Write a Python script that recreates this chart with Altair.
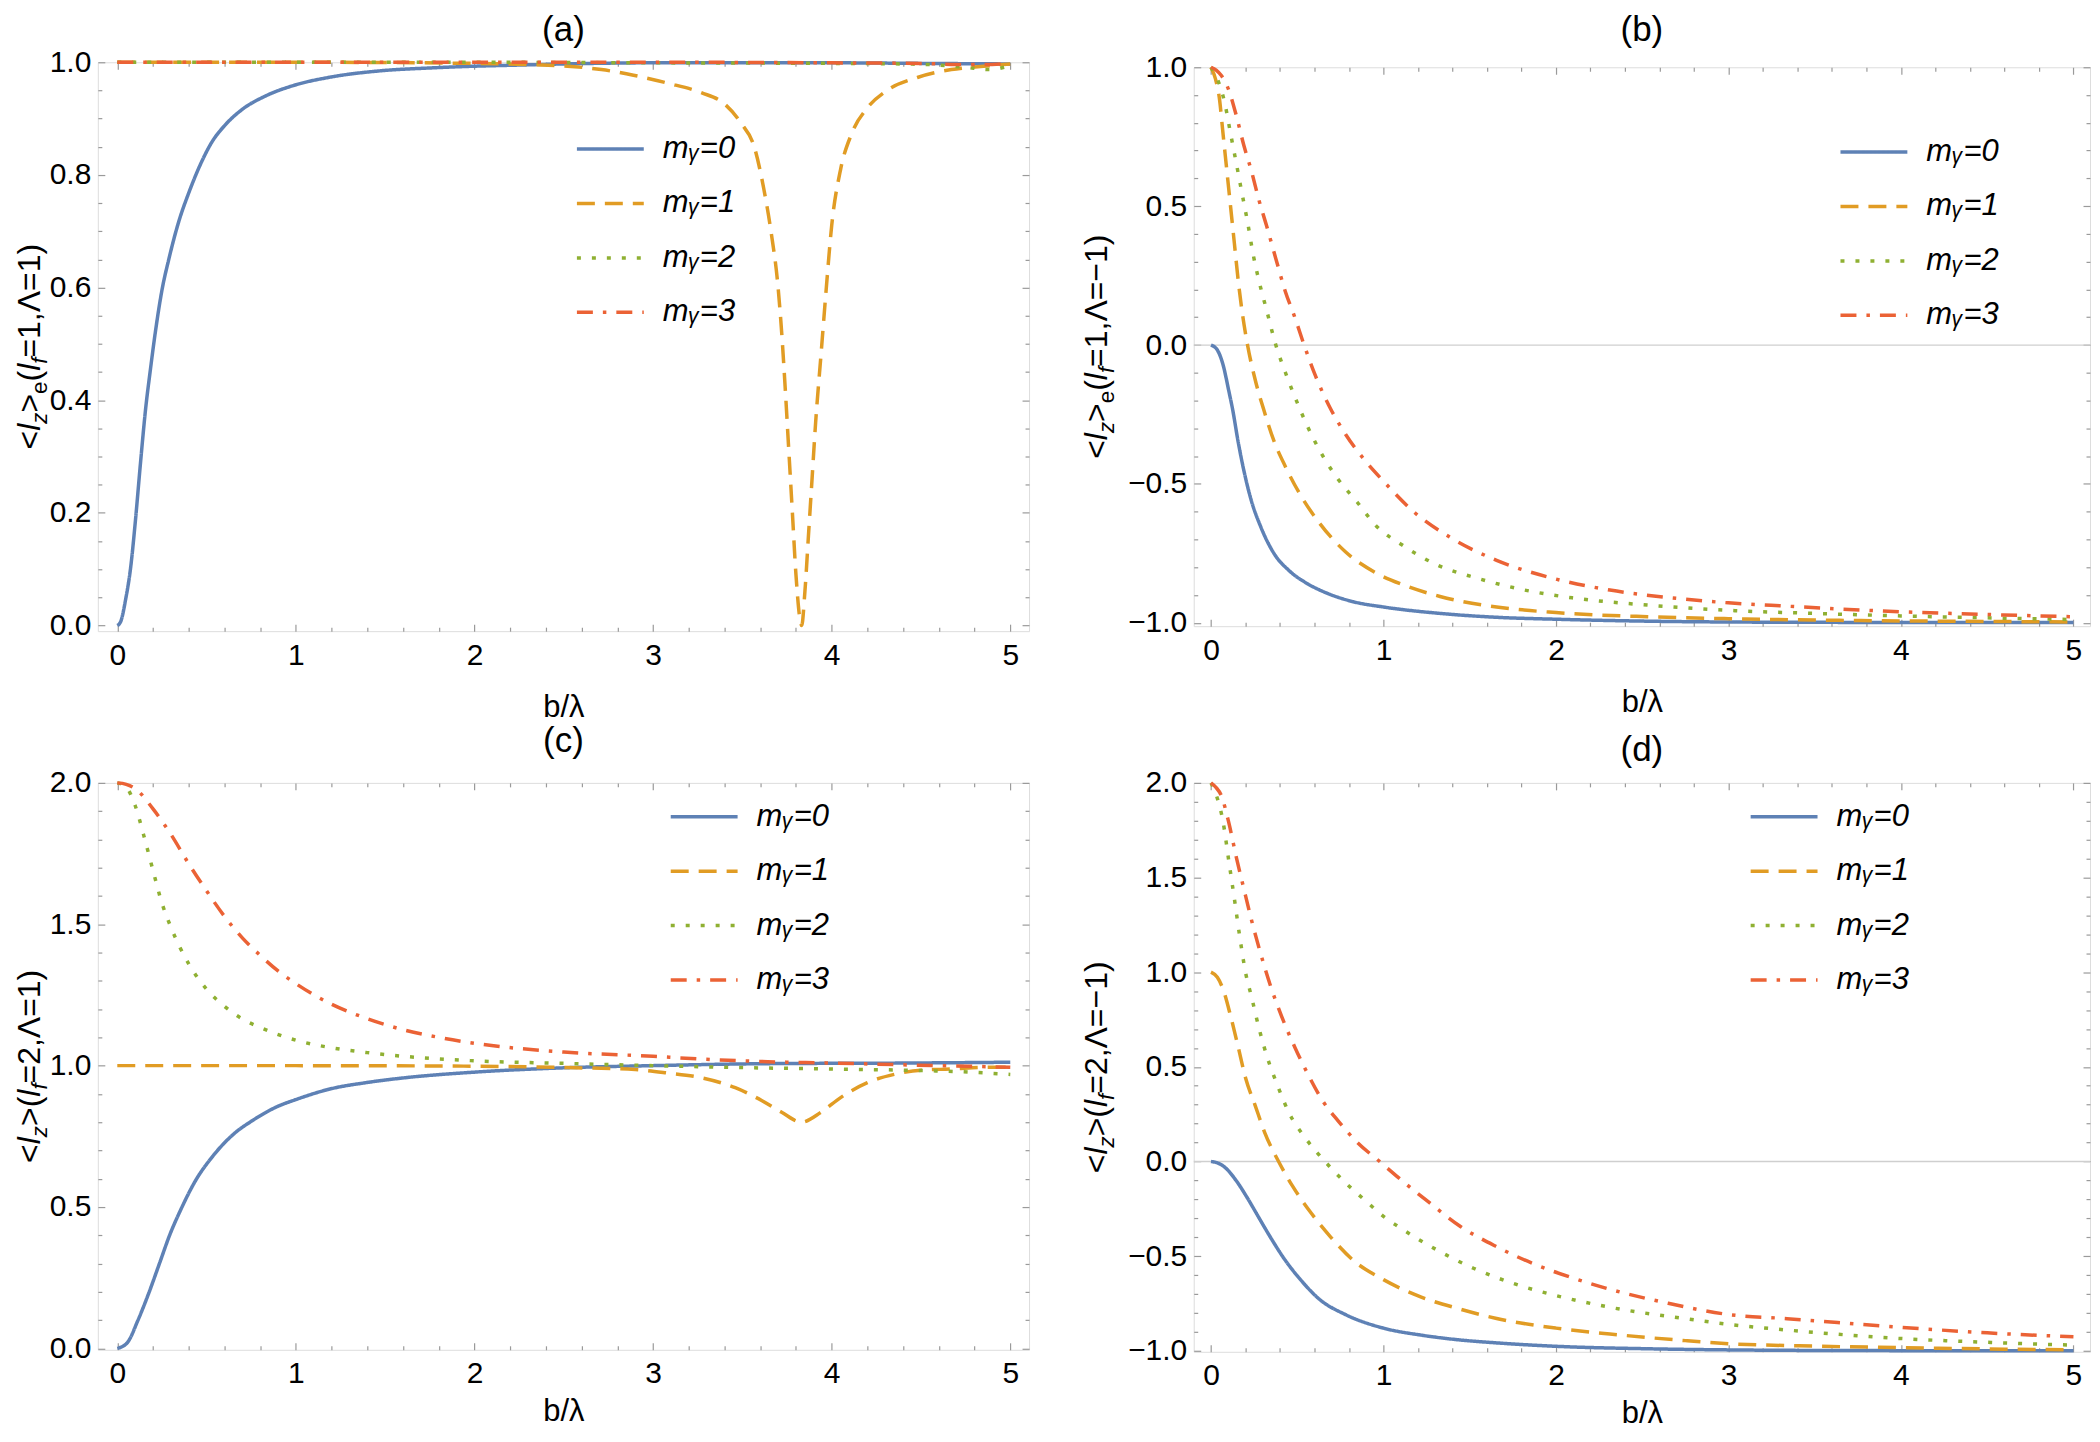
import altair as alt
import pandas as pd

FONT = "Liberation Sans"
SERIES = ["mᵧ=0", "mᵧ=1", "mᵧ=2", "mᵧ=3"]
COLORS = ["#5E81B5", "#E19C24", "#8FB032", "#EB6235"]
DASHES = [[1, 0], [18, 10], [4, 11], [16, 10, 3.5, 10]]
TICK = "#9a9a9a"
X_LABEL = "b/λ"
TITLES = ["(a)", "(b)", "(c)", "(d)"]

# ---------------- panel (a): <l_z>_e (l_f=1, Λ=1)
A0_B = [0, 0.019, 0.047, 0.074, 0.102, 0.13, 0.158, 0.186, 0.214, 0.251, 0.289, 0.345, 0.4, 0.456, 0.531, 0.605, 0.698, 0.829, 1.0, 1.2, 1.48, 1.76, 2.0, 2.25, 2.5, 3.0, 3.5, 4.0, 4.5, 5.0]
A0_V = [0, 0.007, 0.047, 0.101, 0.188, 0.289, 0.383, 0.456, 0.523, 0.597, 0.651, 0.718, 0.768, 0.812, 0.859, 0.889, 0.916, 0.94, 0.96, 0.974, 0.985, 0.99, 0.993, 0.995, 0.997, 0.999, 0.999, 0.999, 0.998, 0.997]
A1_B = [0, 1.0, 2.0, 2.52, 2.71, 2.89, 3.08, 3.27, 3.40, 3.49, 3.57, 3.62, 3.66, 3.70, 3.72, 3.74, 3.76, 3.78, 3.80, 3.832, 3.85, 3.87, 3.89, 3.91, 3.94, 3.97, 4.00, 4.05, 4.11, 4.20, 4.31, 4.48, 4.67, 4.85, 5.0]
A1_V = [1.0, 1.0, 0.998, 0.993, 0.987, 0.977, 0.963, 0.946, 0.926, 0.893, 0.846, 0.775, 0.70, 0.60, 0.52, 0.42, 0.31, 0.20, 0.09, 0.0, 0.06, 0.16, 0.26, 0.36, 0.48, 0.60, 0.71, 0.81, 0.872, 0.919, 0.95, 0.973, 0.987, 0.993, 0.997]
A2_B = [0, 1, 2, 3, 4, 4.4, 4.6, 4.75, 4.88, 5.0]
A2_V = [1.0, 1.0, 1.0, 0.999, 0.998, 0.997, 0.995, 0.991, 0.987, 0.994]
A3_B = [0, 1, 2, 3, 4, 4.5, 4.7, 4.85, 5.0]
A3_V = [1.0, 1.0, 1.0, 1.0, 0.999, 0.998, 0.996, 0.996, 0.998]

# ---------------- panel (b): <l_z>_e (l_f=1, Λ=-1)
B0_B = [0, 0.037, 0.07, 0.103, 0.125, 0.158, 0.19, 0.234, 0.289, 0.365, 0.453, 0.562, 0.672, 0.825, 1.0, 1.328, 1.656, 2.0, 2.53, 3.0, 3.5, 4.0, 5.0]
B0_V = [0, -0.018, -0.071, -0.164, -0.23, -0.35, -0.45, -0.56, -0.655, -0.75, -0.812, -0.86, -0.893, -0.924, -0.943, -0.966, -0.98, -0.987, -0.994, -0.997, -0.998, -0.999, -0.999]
B1_B = [0, 0.026, 0.048, 0.07, 0.092, 0.114, 0.136, 0.158, 0.179, 0.212, 0.256, 0.311, 0.365, 0.431, 0.519, 0.628, 0.781, 0.956, 1.109, 1.328, 1.656, 2.0, 2.53, 3.0, 3.5, 4.0, 4.5, 5.0]
B1_V = [1.0, 0.958, 0.892, 0.76, 0.628, 0.496, 0.364, 0.232, 0.127, 0.0, -0.124, -0.243, -0.345, -0.437, -0.54, -0.64, -0.745, -0.82, -0.862, -0.905, -0.943, -0.963, -0.978, -0.985, -0.99, -0.993, -0.995, -0.997]
B2_B = [0, 0.037, 0.081, 0.114, 0.147, 0.179, 0.212, 0.245, 0.278, 0.322, 0.376, 0.431, 0.497, 0.562, 0.65, 0.737, 0.847, 0.956, 1.109, 1.306, 1.547, 1.788, 2.094, 2.53, 3.0, 3.5, 4.0, 4.5, 5.0]
B2_V = [1.0, 0.958, 0.868, 0.76, 0.654, 0.549, 0.443, 0.325, 0.232, 0.127, 0.0, -0.098, -0.203, -0.296, -0.401, -0.483, -0.565, -0.65, -0.72, -0.79, -0.84, -0.878, -0.91, -0.936, -0.955, -0.966, -0.975, -0.982, -0.988]
B3_B = [0, 0.03, 0.059, 0.103, 0.147, 0.19, 0.234, 0.278, 0.322, 0.376, 0.431, 0.486, 0.54, 0.606, 0.694, 0.781, 0.891, 1.0, 1.175, 1.394, 1.656, 1.985, 2.313, 2.75, 3.0, 3.34, 4.0, 4.5, 5.0]
B3_V = [1.0, 0.99, 0.971, 0.918, 0.826, 0.72, 0.628, 0.522, 0.43, 0.311, 0.193, 0.1, 0.0, -0.111, -0.23, -0.322, -0.414, -0.49, -0.6, -0.695, -0.775, -0.84, -0.882, -0.915, -0.928, -0.94, -0.96, -0.97, -0.978]

# ---------------- panel (c): <l_z> (l_f=2, Λ=1)
C0_B = [0, 0.056, 0.116, 0.176, 0.236, 0.296, 0.355, 0.435, 0.535, 0.655, 0.755, 0.895, 1.0, 1.195, 1.395, 1.594, 2.0, 2.49, 3.0, 3.64, 4.39, 5.0]
C0_V = [0, 0.02, 0.1, 0.195, 0.3, 0.405, 0.49, 0.59, 0.68, 0.76, 0.805, 0.855, 0.88, 0.918, 0.94, 0.956, 0.977, 0.992, 1.0, 1.007, 1.009, 1.012]
C1_B = [0, 1.0, 2.0, 2.525, 2.9, 3.08, 3.27, 3.46, 3.61, 3.72, 3.83, 3.94, 4.05, 4.2, 4.35, 4.5, 4.67, 4.86, 5.0]
C1_V = [1.0, 1.0, 0.998, 0.993, 0.986, 0.974, 0.957, 0.922, 0.876, 0.835, 0.80, 0.835, 0.887, 0.94, 0.969, 0.984, 0.988, 0.994, 0.994]
C2_B = [0, 0.05, 0.1, 0.15, 0.2, 0.25, 0.3, 0.4, 0.5, 0.6, 0.7, 0.8, 1.0, 1.2, 1.4, 1.7, 2.0, 2.5, 3.0, 3.5, 4.0, 4.4, 4.7, 5.0]
C2_V = [2.0, 1.985, 1.92, 1.81, 1.69, 1.575, 1.49, 1.36, 1.27, 1.21, 1.165, 1.135, 1.09, 1.063, 1.046, 1.028, 1.017, 1.008, 1.0, 0.993, 0.988, 0.984, 0.979, 0.969]
C3_B = [0, 0.05, 0.1, 0.2, 0.3, 0.4, 0.5, 0.6, 0.7, 0.8, 0.9, 1.0, 1.2, 1.4, 1.6, 1.8, 2.0, 2.5, 3.0, 3.27, 3.64, 4.02, 4.39, 4.58, 4.76, 5.0]
C3_V = [2.0, 1.995, 1.98, 1.908, 1.818, 1.714, 1.618, 1.528, 1.452, 1.39, 1.335, 1.29, 1.217, 1.166, 1.127, 1.1, 1.079, 1.048, 1.033, 1.023, 1.014, 1.009, 1.003, 1.0, 0.998, 0.994]

# ---------------- panel (d): <l_z> (l_f=2, Λ=-1)
D0_B = [0, 0.04, 0.081, 0.147, 0.212, 0.278, 0.344, 0.431, 0.519, 0.628, 0.781, 1.0, 1.219, 1.438, 1.656, 2.0, 2.53, 3.0, 3.5, 4.0, 4.5, 5.0]
D0_V = [0, -0.008, -0.031, -0.102, -0.194, -0.297, -0.399, -0.522, -0.624, -0.727, -0.809, -0.88, -0.917, -0.942, -0.958, -0.976, -0.989, -0.995, -0.998, -0.999, -1.0, -1.0]
D1_B = [0, 0.037, 0.07, 0.114, 0.158, 0.201, 0.256, 0.311, 0.392, 0.475, 0.584, 0.694, 0.825, 1.0, 1.219, 1.438, 1.656, 2.0, 2.313, 2.75, 3.0, 3.5, 4.0, 4.5, 5.0]
D1_V = [1.0, 0.973, 0.91, 0.768, 0.604, 0.44, 0.297, 0.154, 0.0, -0.133, -0.276, -0.399, -0.522, -0.624, -0.716, -0.778, -0.829, -0.88, -0.911, -0.946, -0.962, -0.975, -0.983, -0.99, -0.995]
D2_B = [0, 0.037, 0.07, 0.103, 0.136, 0.168, 0.201, 0.234, 0.278, 0.322, 0.387, 0.453, 0.54, 0.661, 0.781, 0.912, 1.0, 1.088, 1.306, 1.525, 1.766, 2.0, 2.313, 2.75, 3.0, 3.34, 4.0, 4.5, 5.0]
D2_V = [2.0, 1.918, 1.795, 1.59, 1.386, 1.18, 0.996, 0.874, 0.706, 0.563, 0.399, 0.256, 0.133, 0.0, -0.113, -0.22, -0.29, -0.345, -0.465, -0.565, -0.648, -0.708, -0.77, -0.83, -0.86, -0.89, -0.935, -0.955, -0.97]
D3_B = [0, 0.03, 0.059, 0.103, 0.147, 0.19, 0.234, 0.289, 0.344, 0.409, 0.486, 0.562, 0.65, 0.737, 0.847, 0.978, 1.109, 1.263, 1.438, 1.656, 1.875, 2.094, 2.313, 2.641, 3.0, 3.34, 4.0, 4.5, 5.0]
D3_V = [2.0, 1.975, 1.935, 1.791, 1.607, 1.443, 1.279, 1.095, 0.931, 0.768, 0.604, 0.461, 0.317, 0.215, 0.102, 0.0, -0.102, -0.215, -0.338, -0.45, -0.542, -0.614, -0.675, -0.747, -0.808, -0.83, -0.876, -0.905, -0.926]

# y-axis title pieces: (text, italic, subscript)
YT_A = [("<", 0, 0), ("l", 1, 0), ("z", 1, 1), (">", 0, 0), ("e", 0, 1), ("(", 0, 0), ("l", 1, 0), ("f", 1, 1), ("=1,Λ=1)", 0, 0)]
YT_B = [("<", 0, 0), ("l", 1, 0), ("z", 1, 1), (">", 0, 0), ("e", 0, 1), ("(", 0, 0), ("l", 1, 0), ("f", 1, 1), ("=1,Λ=−1)", 0, 0)]
YT_C = [("<", 0, 0), ("l", 1, 0), ("z", 1, 1), (">", 0, 0), ("(", 0, 0), ("l", 1, 0), ("f", 1, 1), ("=2,Λ=1)", 0, 0)]
YT_D = [("<", 0, 0), ("l", 1, 0), ("z", 1, 1), (">", 0, 0), ("(", 0, 0), ("l", 1, 0), ("f", 1, 1), ("=2,Λ=−1)", 0, 0)]

# Arial / Liberation Sans advance widths (per 1000 em)
ADV = {"<": 584, ">": 584, "(": 333, ")": 333, "=": 584, "1": 556, "2": 556, ",": 278,
       "Λ": 667, "−": 584, "l": 222, "z": 500, "e": 556, "f": 278}

TS = 7       # major tick length
TM = 4       # minor tick length


def frame_long(bs, vs):
    rows = []
    for name, b, v in zip(SERIES, bs, vs):
        for bi, vi in zip(b, v):
            rows.append({"b": bi, "v": vi, "series": name})
    return pd.DataFrame(rows)


def tick_values(lo, hi, step):
    n = int(round((hi - lo) / step))
    return [round(lo + i * step, 4) for i in range(n + 1)]


def dash_props(major):
    test = f"abs(datum.value/{major} - round(datum.value/{major})) < 0.001"
    return test, dict(
        tickDash={"condition": {"test": test, "value": []}, "value": [TM, TS - TM]},
        tickDashOffset={"condition": {"test": test, "value": 0}, "value": TM},
    )


def x_axis(orient, labels, title_pad=8):
    test, dp = dash_props(1)
    a = dict(orient=orient, values=tick_values(0, 5, 0.2), offset=-TS, tickSize=TS,
             domain=False, grid=False, tickColor=TICK, tickWidth=1.2,
             labelFlush=False, labelOverlap=False, minExtent=0, **dp)
    if labels:
        a.update(labels=True, labelExpr=f"{test} ? format(datum.value, 'd') : ''",
                 labelFont=FONT, labelFontSize=30, labelColor="black", labelPadding=9,
                 title=X_LABEL, titleFont=FONT, titleFontSize=31, titleFontWeight="normal",
                 titleColor="black", titlePadding=title_pad)
    else:
        a.update(labels=False, title=None, maxExtent=0)
    return alt.Axis(**a)


def y_axis(orient, labels, lo, hi, minor, major):
    test, dp = dash_props(major)
    a = dict(orient=orient, values=tick_values(lo, hi, minor), offset=-TS, tickSize=TS,
             domain=False, grid=False, tickColor=TICK, tickWidth=1.2,
             labelFlush=False, labelOverlap=False, title=None, minExtent=0, **dp)
    if labels:
        a.update(labels=True, labelExpr=f"{test} ? format(datum.value, '.1f') : ''",
                 labelFont=FONT, labelFontSize=30, labelColor="black", labelPadding=7)
    else:
        a.update(labels=False, maxExtent=0)
    return alt.Axis(**a)


def one_text(text, x, y, size, style="normal", angle=0, align="left"):
    return (
        alt.Chart(alt.Data(values=[{"k": 0}]))
        .mark_text(text=text, angle=angle, align=align, baseline="alphabetic", font=FONT,
                   fontSize=size, fontStyle=style, color="black")
        .encode(x=alt.value(x), y=alt.value(y))
    )


def y_title_layers(parts, height, base_x, size=32):
    sub = round(size * 0.7, 1)
    widths = [sum(ADV[c] for c in t) * (sub if s else size) / 1000 for t, i, s in parts]
    total = sum(widths)
    y0 = height / 2 + total / 2
    layers = []
    cum = 0
    for (t, ital, s), w in zip(parts, widths):
        layers.append(one_text(t, base_x + (7 if s else 0), y0 - cum, sub if s else size,
                               "italic" if ital else "normal", angle=270))
        cum += w
    return layers


def panel(bs, vs, title, title_gap, xdom, ydom, ytick, width, height,
          ytitle, ytitle_x, leg_x, leg_y, zero_line, xtitle_pad):
    df = frame_long(bs, vs)
    lo_t, hi_t, minor, major = ytick
    xs = alt.Scale(domain=xdom, nice=False, zero=False)
    ys = alt.Scale(domain=ydom, nice=False, zero=False)
    leg = alt.Legend(orient="none", legendX=leg_x, legendY=leg_y, title=None,
                     symbolType="stroke", symbolSize=4489, symbolStrokeWidth=3.5,
                     labelFont=FONT, labelFontSize=31, labelFontStyle="italic",
                     labelColor="black", labelOffset=17, clipHeight=30, rowPadding=23.5,
                     padding=0, labelLimit=0)
    lines = alt.Chart(df).mark_line(strokeWidth=3.5, interpolate="monotone", strokeCap="butt").encode(
        x=alt.X("b:Q", scale=xs, axis=x_axis("bottom", True, xtitle_pad)),
        y=alt.Y("v:Q", scale=ys, axis=y_axis("left", True, lo_t, hi_t, minor, major)),
        color=alt.Color("series:N", scale=alt.Scale(domain=SERIES, range=COLORS), legend=leg),
        strokeDash=alt.StrokeDash("series:N", scale=alt.Scale(domain=SERIES, range=DASHES), legend=leg),
        order=alt.Order("b:Q"),
    )
    guide = alt.Chart(df).mark_point(opacity=0, size=1).encode(
        x=alt.X("b:Q", scale=xs, axis=x_axis("top", False)),
        y=alt.Y("v:Q", scale=ys, axis=y_axis("right", False, lo_t, hi_t, minor, major)),
    )
    layers = []
    if zero_line:
        layers.append(
            alt.Chart(alt.Data(values=[{"k": 0}])).mark_rule(color="#cfcfcf", strokeWidth=1.3)
            .encode(y=alt.datum(0, scale=ys, axis=None))
        )
    layers += [lines, guide]
    layers += y_title_layers(ytitle, height, ytitle_x)
    layers.append(one_text(title, width / 2, -title_gap, 35, align="center"))
    return (
        alt.layer(*layers)
        .resolve_axis(x="independent", y="independent")
        .properties(width=width, height=height)
    )


XD_L = [-0.109, 5.105]
XD_R = [-0.1, 5.096]

pa = panel([A0_B, A1_B, A2_B, A3_B], [A0_V, A1_V, A2_V, A3_V], TITLES[0], 21, XD_L, [-0.01, 1.0],
           (0, 1, 0.05, 0.2), 933, 570, YT_A, -58, 478, 72, False, 22)
pb = panel([B0_B, B1_B, B2_B, B3_B], [B0_V, B1_V, B2_V, B3_V], TITLES[1], 26, XD_R, [-1.012, 1.0],
           (-1, 1, 0.1, 0.5), 898, 560, YT_B, -87, 646, 70, True, 22)
pc = panel([C0_B, C1_B, C2_B, C3_B], [C0_V, C1_V, C2_V, C3_V], TITLES[2], 31, XD_L, [-0.005, 2.0],
           (0, 2, 0.1, 0.5), 933, 568, YT_C, -58, 572, 19, False, 8)
pd_ = panel([D0_B, D1_B, D2_B, D3_B], [D0_V, D1_V, D2_V, D3_V], TITLES[3], 22, XD_R, [-1.005, 2.0],
            (-1, 2, 0.1, 0.5), 898, 570, YT_D, -87, 556, 19, True, 8)

chart = (
    alt.concat(pa, pb, pc, pd_, columns=2, spacing={"row": 152, "column": 165},
               bounds="flush", center=True)
    .resolve_scale(x="independent", y="independent", color="independent", strokeDash="independent")
    .resolve_legend(color="independent", strokeDash="independent")
    .properties(padding={"left": 5, "top": 3, "right": 0, "bottom": 0}, background="white")
    .configure_view(stroke="#a0a0a0", strokeWidth=1.3)
    .configure(font=FONT)
)

chart.save("out.html", embed_options={"renderer": "svg", "actions": False})
